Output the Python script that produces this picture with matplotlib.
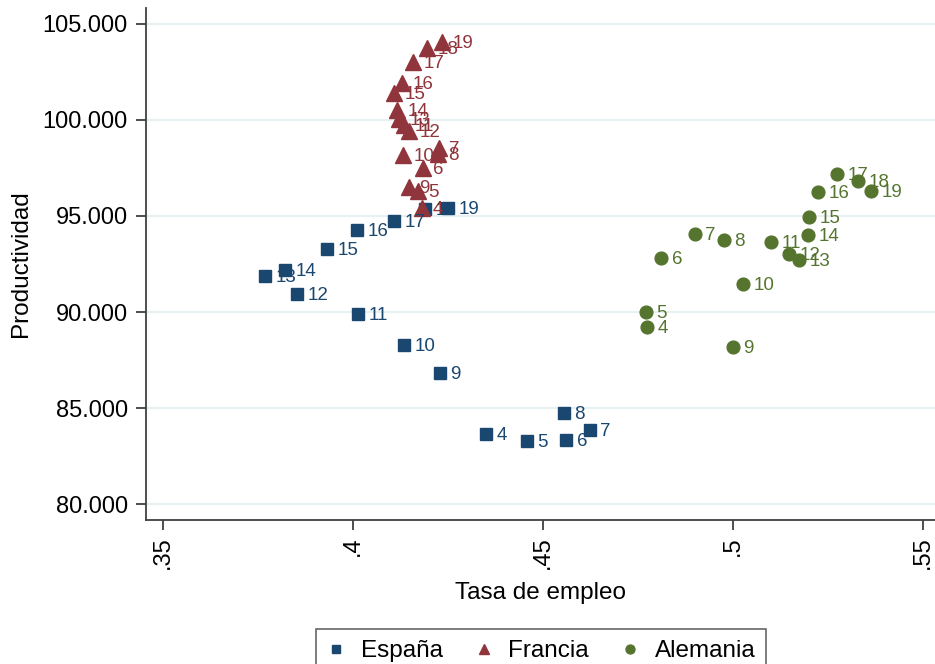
import matplotlib.pyplot as plt

plt.rcParams['font.family'] = ['Liberation Sans', 'DejaVu Sans']

# año (etiqueta de cada punto)
years = [4, 5, 6, 7, 8, 9, 10, 11, 12, 13, 14, 15, 16, 17, 18, 19]

# España
esp_empleo = [0.4350, 0.4458, 0.4561, 0.4624, 0.4555, 0.4229, 0.4134, 0.4013,
              0.3853, 0.3768, 0.3821, 0.3932, 0.4011, 0.4108, 0.4189, 0.4250]
esp_prod = [83.65, 83.28, 83.33, 83.85, 84.74, 86.82, 88.28, 89.90,
            90.94, 91.88, 92.19, 93.28, 94.27, 94.74, 95.36, 95.42]

# Francia
fra_empleo = [0.4182, 0.4171, 0.4184, 0.4226, 0.4224, 0.4147, 0.4132, 0.4134,
              0.4147, 0.4121, 0.4116, 0.4108, 0.4129, 0.4158, 0.4195, 0.4234]
fra_prod = [95.42, 96.30, 97.50, 98.54, 98.23, 96.51, 98.18, 99.74,
            99.43, 100.05, 100.52, 101.41, 101.93, 103.02, 103.75, 104.06]

# Alemania
ale_empleo = [0.4774, 0.4771, 0.4811, 0.4900, 0.4976, 0.5000, 0.5026, 0.5100,
              0.5147, 0.5174, 0.5197, 0.5200, 0.5224, 0.5274, 0.5329, 0.5363]
ale_prod = [89.22, 90.00, 92.81, 94.06, 93.75, 88.18, 91.46, 93.65,
            93.02, 92.71, 94.01, 94.95, 96.25, 97.19, 96.82, 96.30]

x_ticks = [0.35, 0.40, 0.45, 0.50, 0.55]
x_ticklabels = ['.35', '.4', '.45', '.5', '.55']
y_ticks = [80, 85, 90, 95, 100, 105]
y_ticklabels = ['80.000', '85.000', '90.000', '95.000', '100.000', '105.000']

series = [
    ('España', esp_empleo, esp_prod, 's', '#1a476f', 9.2),
    ('Francia', fra_empleo, fra_prod, '^', '#90353b', 11),
    ('Alemania', ale_empleo, ale_prod, 'o', '#55752f', 9.2),
]

fig = plt.figure(figsize=(9.35, 6.64), dpi=100)
ax = fig.add_axes([146 / 935, 144 / 664, 789 / 935, 512 / 664])

for name, xs, ys, marker, color, ms in series:
    ax.plot(xs, ys, linestyle='none', marker=marker, ms=ms, color=color,
            mec=color, label=name, zorder=3)
    for x, y, yr in zip(xs, ys, years):
        ax.annotate(str(yr), (x, y), xytext=(7.5, -1), textcoords='offset points',
                    ha='left', va='center', fontsize=13.5, color=color, zorder=4)

ax.set_xlim(0.3455, 0.5532)
ax.set_ylim(79.17, 105.83)
ax.set_xticks(x_ticks)
ax.set_xticklabels(x_ticklabels, rotation=90, fontsize=17)
ax.set_yticks(y_ticks)
ax.set_yticklabels(y_ticklabels, fontsize=17)

ax.grid(axis='y', color='#e3eef0', linewidth=1.2, zorder=0)
ax.set_axisbelow(True)
for side in ['top', 'right']:
    ax.spines[side].set_visible(False)
for side in ['left', 'bottom']:
    ax.spines[side].set_color('#404040')
    ax.spines[side].set_linewidth(1.3)
ax.tick_params(axis='y', length=7, width=1.3, color='#404040', pad=6)
ax.tick_params(axis='x', length=7, width=1.3, color='#404040', pad=5)

ax.set_xlabel('Tasa de empleo', fontsize=17.5, labelpad=9)
ax.set_ylabel('Productividad', fontsize=17.5, labelpad=8)

leg = fig.legend(loc='upper center', bbox_to_anchor=(541 / 935, 47 / 664),
                 ncol=3, fontsize=17.5, frameon=True, fancybox=False,
                 markerscale=0.7, handlelength=0.8, handletextpad=0.6,
                 columnspacing=1.3, borderpad=0.45)
leg.get_frame().set_edgecolor('#404040')
leg.get_frame().set_linewidth(1.2)

fig.savefig('out.png', dpi=100)
